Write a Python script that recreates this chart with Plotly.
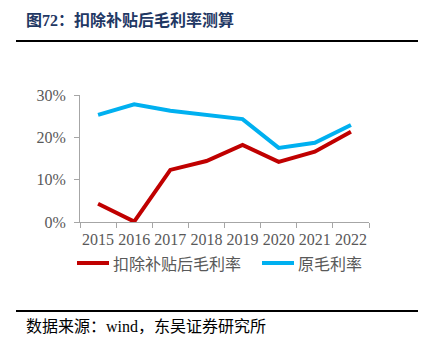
import plotly.graph_objects as go

years = ["2015", "2016", "2017", "2018", "2019", "2020", "2021", "2022"]
adjusted_margin = [4.3, 0.1, 12.3, 14.4, 18.2, 14.2, 16.6, 21.3]
original_margin = [25.3, 27.8, 26.3, 25.4, 24.3, 17.5, 18.7, 22.9]
y_ticks = [0, 10, 20, 30]
y_tick_text = ["0%", "10%", "20%", "30%"]
series_names = ["扣除补贴后毛利率", "原毛利率"]
series_colors = ["#C00000", "#00B0F0"]

title_text = "图72：扣除补贴后毛利率测算"
source_text = "数据来源：wind，东吴证券研究所"

SERIF = "Liberation Serif, Noto Sans CJK SC, serif"
CJK = "Noto Sans CJK SC, sans-serif"

fig = go.Figure()
for vals, name, color in zip([adjusted_margin, original_margin], series_names, series_colors):
    fig.add_trace(go.Scatter(x=years, y=vals, mode="lines", name=name,
                             line=dict(color=color, width=4)))

L, R, T, B = 80, 55, 95, 126
pw = 424 - L - R
ph = 348 - T - B

def px(x):
    return (x - L) / pw

def py(y):
    return (348 - B - y) / ph

annotations = [
    dict(text="<b>" + title_text + "</b>", xref="paper", yref="paper",
         x=px(24), y=py(20), xanchor="left", yanchor="middle", showarrow=False,
         font=dict(family=SERIF, size=16, color="#1F3864")),
    dict(text=source_text, xref="paper", yref="paper",
         x=px(24), y=py(326), xanchor="left", yanchor="middle", showarrow=False,
         font=dict(family=SERIF, size=16, color="#000000")),
]
shapes = [
    dict(type="line", xref="paper", yref="paper", x0=px(16), x1=px(418),
         y0=py(41), y1=py(41), line=dict(color="#000000", width=2)),
    dict(type="line", xref="paper", yref="paper", x0=px(16), x1=px(418),
         y0=py(311), y1=py(311), line=dict(color="#000000", width=2)),
]
# legend (manual, to match the reference placement)
legend_starts = [77, 262]
for start, name, color in zip(legend_starts, series_names, series_colors):
    shapes.append(dict(type="line", xref="paper", yref="paper", x0=px(start), x1=px(start + 32),
                       y0=py(263), y1=py(263), line=dict(color=color, width=4)))
    annotations.append(dict(text=name, xref="paper", yref="paper", x=px(start + 34), y=py(263),
                            xanchor="left", yanchor="middle", showarrow=False,
                            font=dict(family=CJK, size=16, color="#595959")))

fig.update_layout(
    width=424, height=348,
    margin=dict(l=L, r=R, t=T, b=B),
    paper_bgcolor="white", plot_bgcolor="white",
    showlegend=False,
    xaxis=dict(type="category", range=[-0.5, 7.5], showgrid=False, showline=True,
               linecolor="#A6A6A6", linewidth=1, ticks="outside", ticklen=5,
               tickcolor="#A6A6A6", tickson="boundaries", tickangle=0,
               ticklabelstandoff=3,
               tickfont=dict(family=SERIF, size=16, color="#595959"), zeroline=False),
    yaxis=dict(range=[0, 30], tickvals=y_ticks, ticktext=y_tick_text, showgrid=False,
               showline=True, linecolor="#A6A6A6", linewidth=1, ticks="outside",
               ticklen=5, tickcolor="#A6A6A6", zeroline=False, ticklabelstandoff=5,
               tickfont=dict(family=SERIF, size=16, color="#595959")),
    annotations=annotations,
    shapes=shapes,
)

fig.write_html("out.html")
